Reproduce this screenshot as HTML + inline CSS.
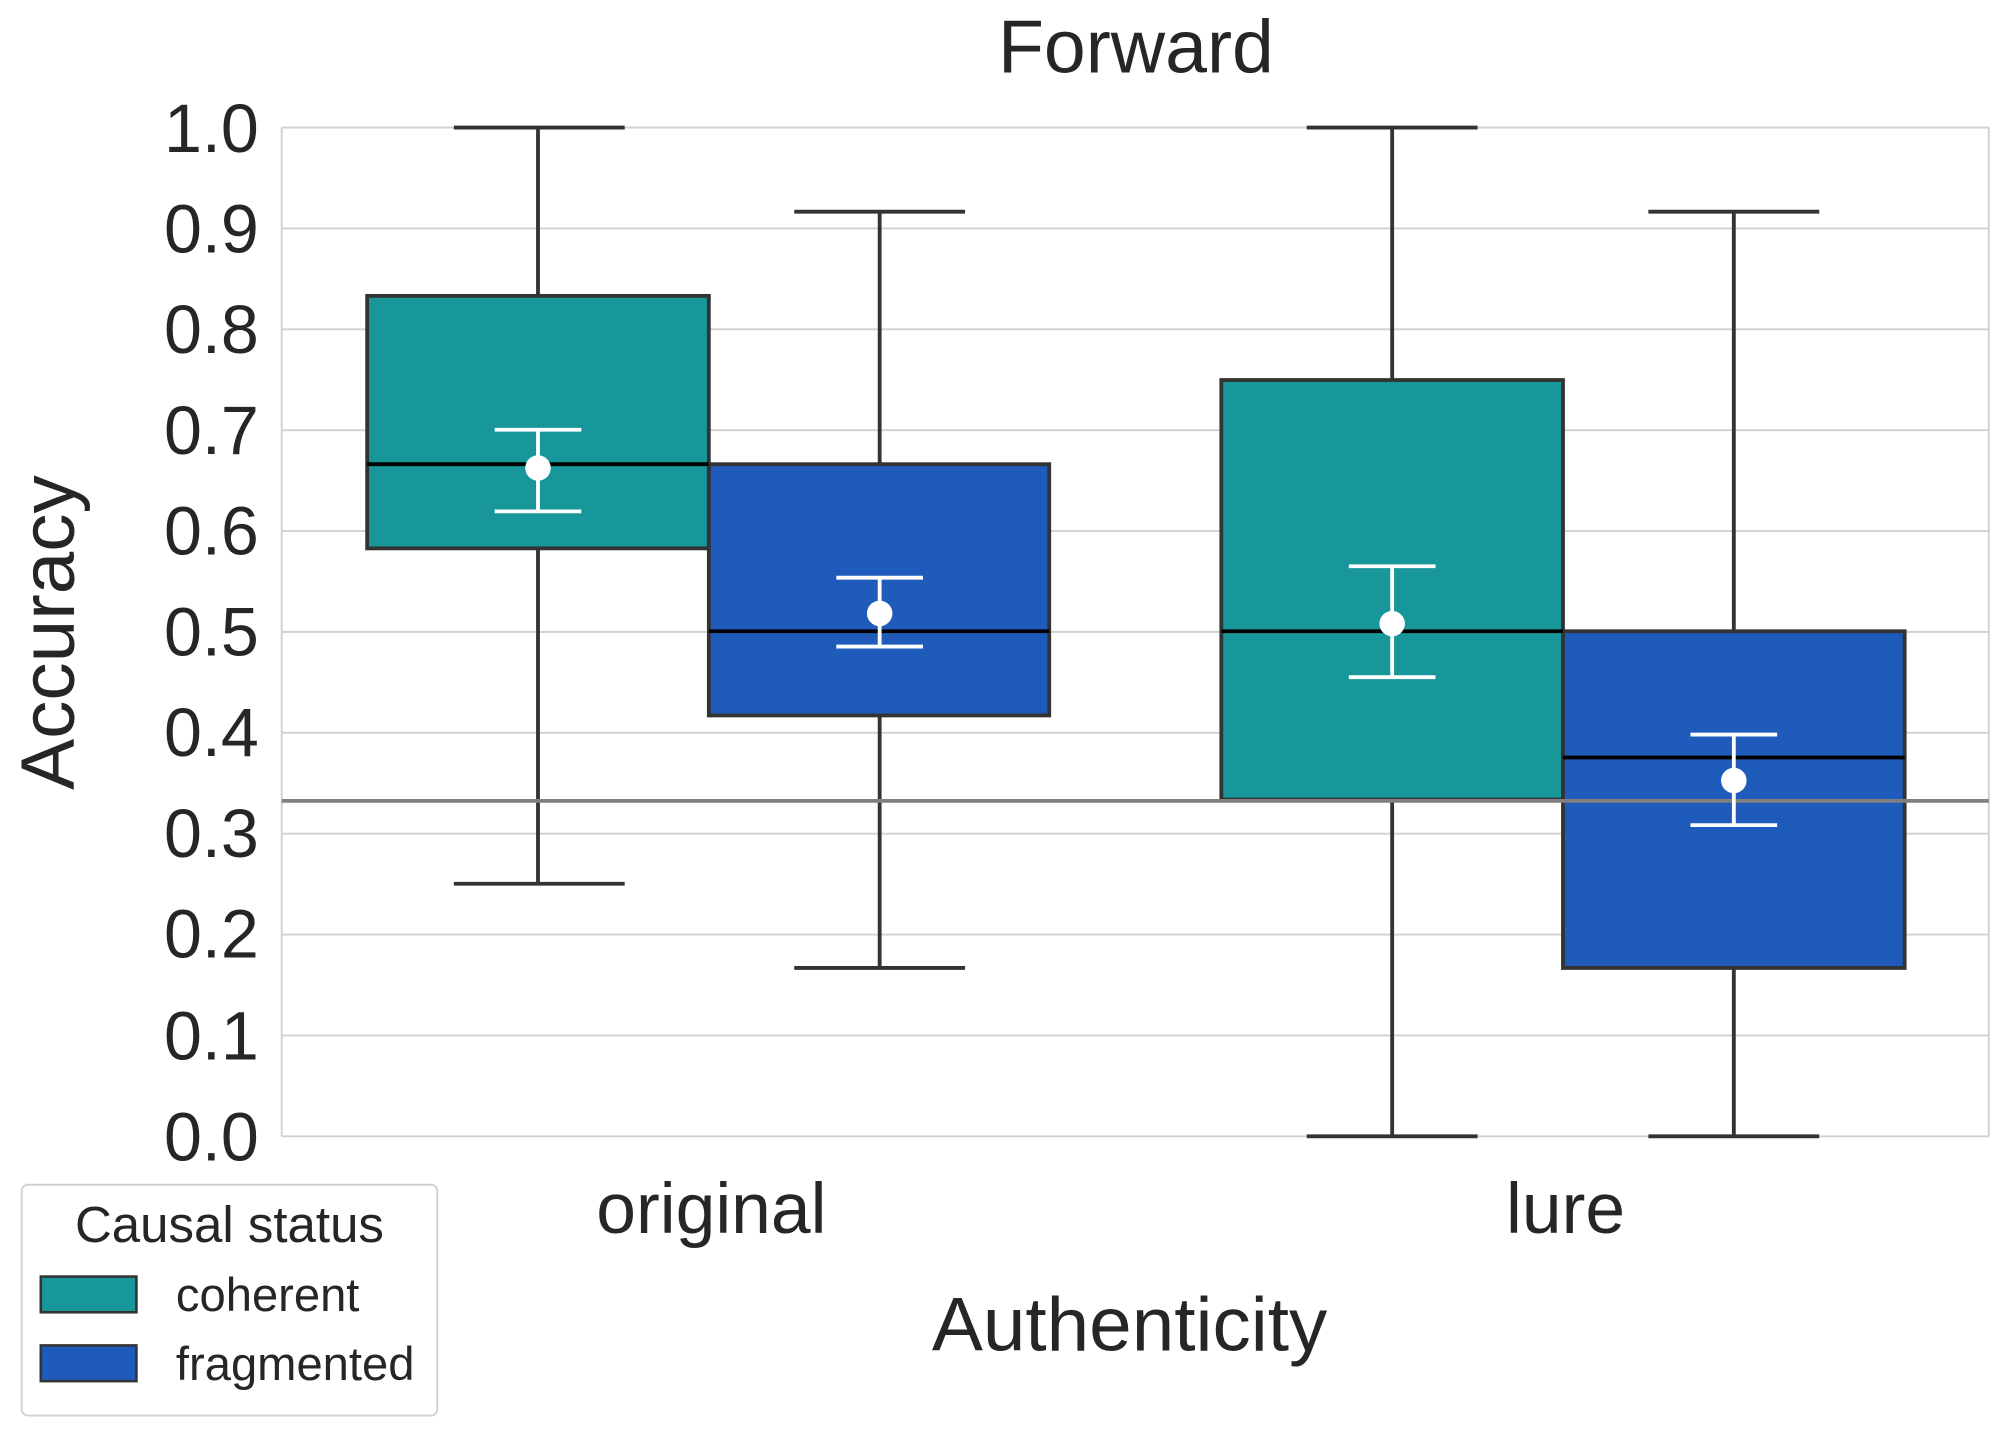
<!DOCTYPE html>
<html><head><style>
html,body{margin:0;padding:0;background:#fff;}
svg{display:block;}
text{font-family:"Liberation Sans",Arial,sans-serif;fill:#262626;}
</style></head><body>
<svg width="1999" height="1450" viewBox="0 0 1568 1137" preserveAspectRatio="none" xmlns="http://www.w3.org/2000/svg">
<rect x="0" y="0" width="1568" height="1137" fill="#fff"/>
<g stroke="#d0d0d0" stroke-width="1.5">
<line x1="221" x2="1560" y1="100" y2="100"/>
<line x1="221" x2="1560" y1="179.1" y2="179.1"/>
<line x1="221" x2="1560" y1="258.2" y2="258.2"/>
<line x1="221" x2="1560" y1="337.3" y2="337.3"/>
<line x1="221" x2="1560" y1="416.4" y2="416.4"/>
<line x1="221" x2="1560" y1="495.5" y2="495.5"/>
<line x1="221" x2="1560" y1="574.6" y2="574.6"/>
<line x1="221" x2="1560" y1="653.7" y2="653.7"/>
<line x1="221" x2="1560" y1="732.8" y2="732.8"/>
<line x1="221" x2="1560" y1="811.9" y2="811.9"/>
<line x1="221" x2="1560" y1="891" y2="891"/>
<line x1="221" x2="221" y1="100" y2="891"/>
<line x1="1560" x2="1560" y1="100" y2="891"/>
</g>
<g stroke="#333" stroke-width="3" fill="none">
<line x1="422" x2="422" y1="100" y2="232"/><line x1="422" x2="422" y1="430" y2="693"/>
<line x1="356" x2="490" y1="100" y2="100"/><line x1="356" x2="490" y1="693" y2="693"/>
<line x1="690" x2="690" y1="166" y2="364"/><line x1="690" x2="690" y1="561" y2="759"/>
<line x1="623" x2="757" y1="166" y2="166"/><line x1="623" x2="757" y1="759" y2="759"/>
<line x1="1092" x2="1092" y1="100" y2="298"/><line x1="1092" x2="1092" y1="627" y2="891"/>
<line x1="1025" x2="1159" y1="100" y2="100"/><line x1="1025" x2="1159" y1="891" y2="891"/>
<line x1="1360" x2="1360" y1="166" y2="495"/><line x1="1360" x2="1360" y1="759" y2="891"/>
<line x1="1293" x2="1427" y1="166" y2="166"/><line x1="1293" x2="1427" y1="891" y2="891"/>
</g>
<g stroke="#333" stroke-width="3">
<rect x="288" y="232" width="268" height="198" fill="#17979a"/>
<rect x="556" y="364" width="267" height="197" fill="#1f5bbb"/>
<rect x="958" y="298" width="268" height="329" fill="#17979a"/>
<rect x="1226" y="495" width="268" height="264" fill="#1f5bbb"/>
</g>
<g stroke="#000" stroke-width="3">
<line x1="288" x2="556" y1="364" y2="364"/>
<line x1="556" x2="823" y1="495" y2="495"/>
<line x1="958" x2="1226" y1="495" y2="495"/>
<line x1="1226" x2="1494" y1="594" y2="594"/>
</g>
<line x1="221" x2="1560" y1="628" y2="628" stroke="#808080" stroke-width="3"/>
<g stroke="#fff" stroke-width="3">
<line x1="422" x2="422" y1="337" y2="401"/><line x1="388" x2="456" y1="337" y2="337"/><line x1="388" x2="456" y1="401" y2="401"/>
<line x1="690" x2="690" y1="453" y2="507"/><line x1="656" x2="724" y1="453" y2="453"/><line x1="656" x2="724" y1="507" y2="507"/>
<line x1="1092" x2="1092" y1="444" y2="531"/><line x1="1058" x2="1126" y1="444" y2="444"/><line x1="1058" x2="1126" y1="531" y2="531"/>
<line x1="1360" x2="1360" y1="576" y2="647"/><line x1="1326" x2="1394" y1="576" y2="576"/><line x1="1326" x2="1394" y1="647" y2="647"/>
</g>
<g fill="#fff">
<circle cx="422" cy="367" r="10"/><circle cx="690" cy="481" r="10"/>
<circle cx="1092" cy="489" r="10"/><circle cx="1360" cy="612" r="10"/>
</g>
<g font-size="53.5" text-anchor="end">
<text x="203" y="119">1.0</text><text x="203" y="198">0.9</text><text x="203" y="277">0.8</text>
<text x="203" y="356">0.7</text><text x="203" y="435">0.6</text><text x="203" y="514">0.5</text>
<text x="203" y="593">0.4</text><text x="203" y="672">0.3</text><text x="203" y="751">0.2</text>
<text x="203" y="831">0.1</text><text x="203" y="910">0.0</text>
</g>
<text x="891" y="57" font-size="59" text-anchor="middle">Forward</text>
<text x="558" y="967" font-size="56" text-anchor="middle">original</text>
<text x="1228" y="967" font-size="56" text-anchor="middle">lure</text>
<text x="886" y="1059" font-size="60" text-anchor="middle">Authenticity</text>
<text transform="translate(58,496) rotate(-90)" font-size="60" text-anchor="middle">Accuracy</text>
<rect x="17" y="929" width="326" height="181" rx="5" fill="#fff" stroke="#d0d0d0" stroke-width="1.5"/>
<text x="180" y="974" font-size="40" text-anchor="middle">Causal status</text>
<rect x="32" y="1001" width="75" height="28" fill="#17979a" stroke="#333" stroke-width="2"/>
<rect x="32" y="1055" width="75" height="28" fill="#1f5bbb" stroke="#333" stroke-width="2"/>
<text x="138" y="1028" font-size="37">coherent</text>
<text x="138" y="1082" font-size="37">fragmented</text>
</svg>
</body></html>
